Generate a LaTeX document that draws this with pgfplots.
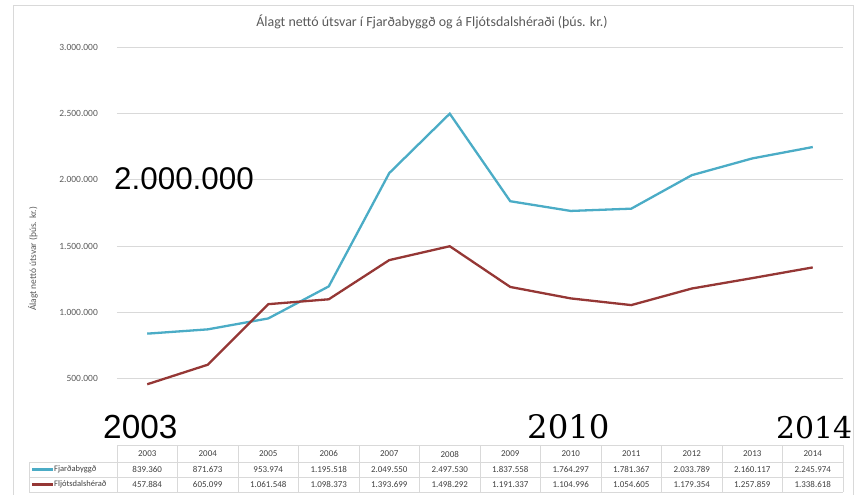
\documentclass[border=0pt]{standalone}
\usepackage{pgfplots}
\pgfplotsset{compat=1.18}
\usepackage{pgfplotstable}
\usepackage{fontspec}
\setmainfont{Carlito}
\newfontfamily\heros{Liberation Sans}
\newfontfamily\dvs{DejaVu Serif}
\definecolor{cblue}{HTML}{4BACC6}
\definecolor{cred}{HTML}{953735}
\definecolor{cgrid}{HTML}{D9D9D9}
\definecolor{ctext}{HTML}{595959}
\definecolor{cval}{HTML}{404040}

\pgfplotstableread{
x year fjarda fljots
0 2003 839360 457884
1 2004 871673 605099
2 2005 953974 1061548
3 2006 1195518 1098373
4 2007 2049550 1393699
5 2008 2497530 1498292
6 2009 1837558 1191337
7 2010 1764297 1104996
8 2011 1781367 1054605
9 2012 2033789 1179354
10 2013 2160117 1257859
11 2014 2245974 1338618
}\datatable

\begin{document}
\begin{tikzpicture}
\path[use as bounding box] (0,0) rectangle (856bp,-495bp);
\begin{axis}[
  at={(117bp,-445bp)}, anchor=south west,
  scale only axis, width=726bp, height=398bp,
  xmin=-0.5, xmax=11.5, ymin=0, ymax=3000000,
  axis line style={draw=none},
  xtick=\empty,
  ytick={500000,1000000,1500000,2000000,2500000,3000000},
  ymajorgrids, grid style={draw=cgrid, line width=0.8bp},
  major tick length=0pt,
  scaled y ticks=false,
  /pgf/number format/.cd, fixed, precision=0, 1000 sep={.}, assume math mode=true,
  /pgfplots/.cd,
  yticklabel style={font=\fontsize{9.5}{10}\selectfont, text=ctext, inner sep=0pt, anchor=east, xshift=-19bp},
  clip=false,
]
\addplot[cblue, line width=2.3bp] table[x=x, y=fjarda] {\datatable};
\addplot[cred, line width=2.3bp] table[x=x, y=fljots] {\datatable};
\end{axis}

\begin{scope}[x=1bp, y=-1bp]
  % outer border
  \draw[cgrid, line width=0.8bp] (13,495) -- (13,5) -- (853,5) -- (853,495);
  % title
  \node[text=ctext, font=\fontsize{14}{16}\selectfont] at (432,22) {Álagt nettó útsvar í Fjarðabyggð og á Fljótsdalshéraði (þús. kr.)};
  % y label
  \node[text=ctext, rotate=90, font=\fontsize{9.5}{10}\selectfont] at (33,259) {Álagt nettó útsvar (þús. kr.)};
  % table lines
  \draw[cgrid, line width=0.8bp] (117,445) -- (843,445);
  \draw[cgrid, line width=0.8bp] (29,462) -- (843,462);
  \draw[cgrid, line width=0.8bp] (29,477) -- (843,477);
  \draw[cgrid, line width=0.8bp] (29,492) -- (843,492);
  \draw[cgrid, line width=0.8bp] (29,462) -- (29,492);
  \foreach \k in {0,...,12} {
    \draw[cgrid, line width=0.8bp] ({117+60.5*\k},445) -- ({117+60.5*\k},492);
  }
  % legend cells
  \draw[cblue, line width=2.2bp] (32,469.5) -- (53,469.5);
  \draw[cred, line width=2.2bp] (32,484.5) -- (53,484.5);
  \node[anchor=west, inner sep=0pt, text=cval, font=\fontsize{8.5}{9}\selectfont] at (54,469.5) {Fjarðabyggð};
  \node[anchor=west, inner sep=0pt, text=cval, font=\fontsize{8.5}{9}\selectfont] at (54,484.5) {Fljótsdalshérað};
  % table values
  \foreach \yr [count=\i from 0] in {2003,2004,2005,2006,2007,2008,2009,2010,2011,2012,2013,2014} {
    \node[text=cval, font=\fontsize{9}{10}\selectfont] at ({147.25+60.5*\i},454) {\yr};
  }
  \foreach \v [count=\i from 0] in {839.360,871.673,953.974,1.195.518,2.049.550,2.497.530,1.837.558,1.764.297,1.781.367,2.033.789,2.160.117,2.245.974} {
    \node[text=cval, font=\fontsize{9}{10}\selectfont] at ({147.25+60.5*\i},469.5) {\v};
  }
  \foreach \v [count=\i from 0] in {457.884,605.099,1.061.548,1.098.373,1.393.699,1.498.292,1.191.337,1.104.996,1.054.605,1.179.354,1.257.859,1.338.618} {
    \node[text=cval, font=\fontsize{9}{10}\selectfont] at ({147.25+60.5*\i},484.5) {\v};
  }
  % overlay labels
  \node[anchor=base west, inner sep=0pt] at (114,189) {\heros\fontsize{31.5}{32}\selectfont 2.000.000};
  \node[anchor=base west, inner sep=0pt] at (103,438) {\heros\fontsize{33.5}{34}\selectfont 2003};
  \node[anchor=base west, inner sep=0pt] at (527,438) {\dvs\fontsize{32.5}{33}\selectfont 2010};
  \node[anchor=base west, inner sep=0pt] at (776,438) {\dvs\fontsize{30}{31}\selectfont 2014};
\end{scope}
\end{tikzpicture}
\end{document}
